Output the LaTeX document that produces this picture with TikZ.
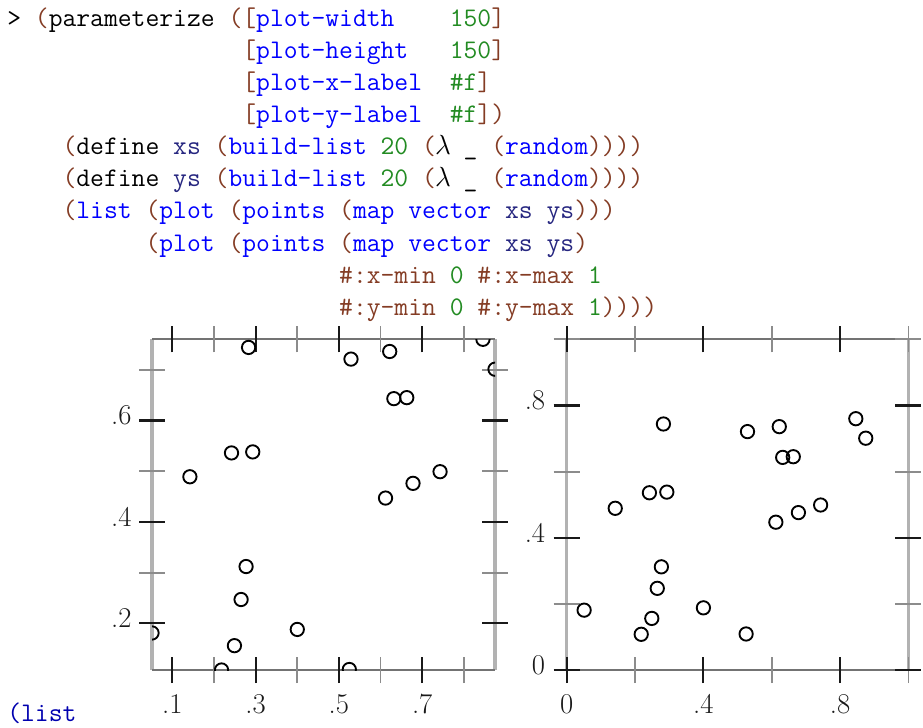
\documentclass[tikz,border=0pt]{standalone}
\usepackage{tikz}

\definecolor{rktpn}{HTML}{843C24}
\definecolor{rktlink}{HTML}{0000FF}
\definecolor{rktsym}{HTML}{262680}
\definecolor{rktval}{HTML}{228B22}
\definecolor{rktres}{HTML}{0000AF}

\newcommand{\codefont}{\fontsize{20.14pt}{24pt}\selectfont\ttfamily}
\newcommand{\labfont}{\fontsize{21.5pt}{22pt}\selectfont}
\newcommand{\cgap}[1]{\hspace*{\dimexpr\fontcharwd\font`x*#1\relax}}
\newcommand{\rpn}[1]{\textcolor{rktpn}{#1}}
\newcommand{\rlk}[1]{\textcolor{rktlink}{#1}}
\newcommand{\rsym}[1]{\textcolor{rktsym}{#1}}
\newcommand{\rval}[1]{\textcolor{rktval}{#1}}
\newcommand{\lam}{\makebox[\fontcharwd\font`x]{$\lambda$}}

\begin{document}
\begin{tikzpicture}[x=0.75pt,y=-0.75pt,
    code/.style={anchor=base west,inner sep=0pt,font=\codefont},
    ticklab/.style={inner sep=0pt,font=\labfont,text=black!90,text height=0.644em,text depth=0pt},
    framev/.style={line width=2.6pt,black!30},
    frameh/.style={line width=1.5pt,black!55},
    major/.style={line width=1.6pt,black!90},
    minor/.style={line width=1.4pt,black!45},
    pt/.style={line width=1.4pt,black}]
    \useasboundingbox (0,0) rectangle (923,727);

    % the expression
    \node[code] (ln1) at (7,27) {>\cgap{1}\rpn{(}parameterize\cgap{1}\rpn{([}\rlk{plot-width}\cgap{4}\rval{150}\rpn{]}};
    \node[code] (ln2) at (7,59) {\cgap{17}\rpn{[}\rlk{plot-height}\cgap{3}\rval{150}\rpn{]}};
    \node[code] (ln3) at (7,91) {\cgap{17}\rpn{[}\rlk{plot-x-label}\cgap{2}\rval{\#f}\rpn{]}};
    \node[code] (ln4) at (7,123) {\cgap{17}\rpn{[}\rlk{plot-y-label}\cgap{2}\rval{\#f}\rpn{])}};
    \node[code] (ln5) at (7,155) {\cgap{4}\rpn{(}define \rsym{xs} \rpn{(}\rlk{build-list} \rval{20} \rpn{(}\lam{} \_ \rpn{(}\rlk{random}\rpn{))))}};
    \node[code] (ln6) at (7,187) {\cgap{4}\rpn{(}define \rsym{ys} \rpn{(}\rlk{build-list} \rval{20} \rpn{(}\lam{} \_ \rpn{(}\rlk{random}\rpn{))))}};
    \node[code] (ln7) at (7,219) {\cgap{4}\rpn{(}\rlk{list} \rpn{(}\rlk{plot} \rpn{(}\rlk{points} \rpn{(}\rlk{map} \rlk{vector} \rsym{xs} \rsym{ys}\rpn{)))}};
    \node[code] (ln8) at (7,251) {\cgap{10}\rpn{(}\rlk{plot} \rpn{(}\rlk{points} \rpn{(}\rlk{map} \rlk{vector} \rsym{xs} \rsym{ys}\rpn{)}};
    \node[code] (ln9) at (7,283) {\cgap{24}\rpn{\#:x-min} \rval{0} \rpn{\#:x-max} \rval{1}};
    \node[code] (ln10) at (7,315) {\cgap{24}\rpn{\#:y-min} \rval{0} \rpn{\#:y-max} \rval{1}\rpn{))))}};
    \node[code,text=rktres] (res) at (7,721) {(list};

    % first plot, bounds from the data
    \begin{scope}[shift={(152,670)},x=312.2pt,y=380.4pt,shift={(-0.051,-0.108)}]
        \draw[framev] (0.051,0.108) -- (0.051,0.760);
        \draw[framev] (0.875,0.108) -- (0.875,0.760);
        \draw[frameh] (0.051,0.108) -- (0.875,0.108);
        \draw[frameh] (0.051,0.760) -- (0.875,0.760);
        \foreach \t in {0.2,0.4,0.6,0.8} {
            \draw[minor] (\t,0.108) ++(0pt,-9.75pt) -- ++(0pt,19.5pt);
            \draw[minor] (\t,0.760) ++(0pt,-9.75pt) -- ++(0pt,19.5pt);
        }
        \foreach \t in {0.3,0.5,0.7} {
            \draw[minor] (0.051,\t) ++(-9.75pt,0pt) -- ++(19.5pt,0pt);
            \draw[minor] (0.875,\t) ++(-9.75pt,0pt) -- ++(19.5pt,0pt);
        }
        \foreach \t in {0.1,0.3,0.5,0.7} {
            \draw[major] (\t,0.108) ++(0pt,-9.75pt) -- ++(0pt,19.5pt);
            \draw[major] (\t,0.760) ++(0pt,-9.75pt) -- ++(0pt,19.5pt);
        }
        \foreach \t in {0.2,0.4,0.6} {
            \draw[major] (0.051,\t) ++(-9.75pt,0pt) -- ++(19.5pt,0pt);
            \draw[major] (0.875,\t) ++(-9.75pt,0pt) -- ++(19.5pt,0pt);
        }
        \begin{scope}
            \clip (0.051,0.108) rectangle (0.875,0.760);
            \foreach \px/\py in {0.283/0.744,0.529/0.721,0.622/0.736,0.846/0.760,0.875/0.701,
                0.632/0.643,0.663/0.645,0.242/0.536,0.293/0.538,0.142/0.489,0.612/0.447,
                0.678/0.476,0.743/0.499,0.277/0.312,0.265/0.247,0.051/0.181,0.400/0.188,
                0.249/0.156,0.218/0.108,0.525/0.109}
                \draw[pt] (\px,\py) circle[radius=5pt];
        \end{scope}
        \foreach \t/\lab [count=\i] in {0.1/.1,0.3/.3,0.5/.5,0.7/.7}
            \node[ticklab,anchor=base,yshift=-32.25pt] (ax\i) at (\t,0.108) {\lab};
        \foreach \t/\lab [count=\i] in {0.2/.2,0.4/.4,0.6/.6}
            \node[ticklab,anchor=east,xshift=-15.2pt] (ay\i) at (0.051,\t) {\lab};
    \end{scope}

    % second plot, unit square
    \begin{scope}[shift={(566.7,670)},x=256.3pt,y=248.0pt]
        \draw[framev] (0,0) -- (0,1);
        \draw[framev] (1,0) -- (1,1);
        \draw[frameh] (0,0) -- (1,0);
        \draw[frameh] (0,1) -- (1,1);
        \foreach \t in {0.2,0.6,1} {
            \draw[minor] (\t,0) ++(0pt,-9.75pt) -- ++(0pt,19.5pt);
            \draw[minor] (\t,1) ++(0pt,-9.75pt) -- ++(0pt,19.5pt);
            \draw[minor] (0,\t) ++(-9.75pt,0pt) -- ++(19.5pt,0pt);
            \draw[minor] (1,\t) ++(-9.75pt,0pt) -- ++(19.5pt,0pt);
        }
        \foreach \t in {0,0.4,0.8} {
            \draw[major] (\t,0) ++(0pt,-9.75pt) -- ++(0pt,19.5pt);
            \draw[major] (\t,1) ++(0pt,-9.75pt) -- ++(0pt,19.5pt);
            \draw[major] (0,\t) ++(-9.75pt,0pt) -- ++(19.5pt,0pt);
            \draw[major] (1,\t) ++(-9.75pt,0pt) -- ++(19.5pt,0pt);
        }
        \foreach \px/\py in {0.283/0.744,0.529/0.721,0.622/0.736,0.846/0.760,0.875/0.701,
            0.632/0.643,0.663/0.645,0.242/0.536,0.293/0.538,0.142/0.489,0.612/0.447,
            0.678/0.476,0.743/0.499,0.277/0.312,0.265/0.247,0.051/0.181,0.400/0.188,
            0.249/0.156,0.218/0.108,0.525/0.109}
            \draw[pt] (\px,\py) circle[radius=5pt];
        \foreach \t/\lab [count=\i] in {0/0,0.4/.4,0.8/.8}
            \node[ticklab,anchor=base,yshift=-32.25pt] (bx\i) at (\t,0) {\lab};
        \foreach \t/\lab [count=\i] in {0/0,0.4/.4,0.8/.8}
            \node[ticklab,anchor=east,xshift=-16pt] (by\i) at (0,\t) {\lab};
    \end{scope}
\end{tikzpicture}
\end{document}
